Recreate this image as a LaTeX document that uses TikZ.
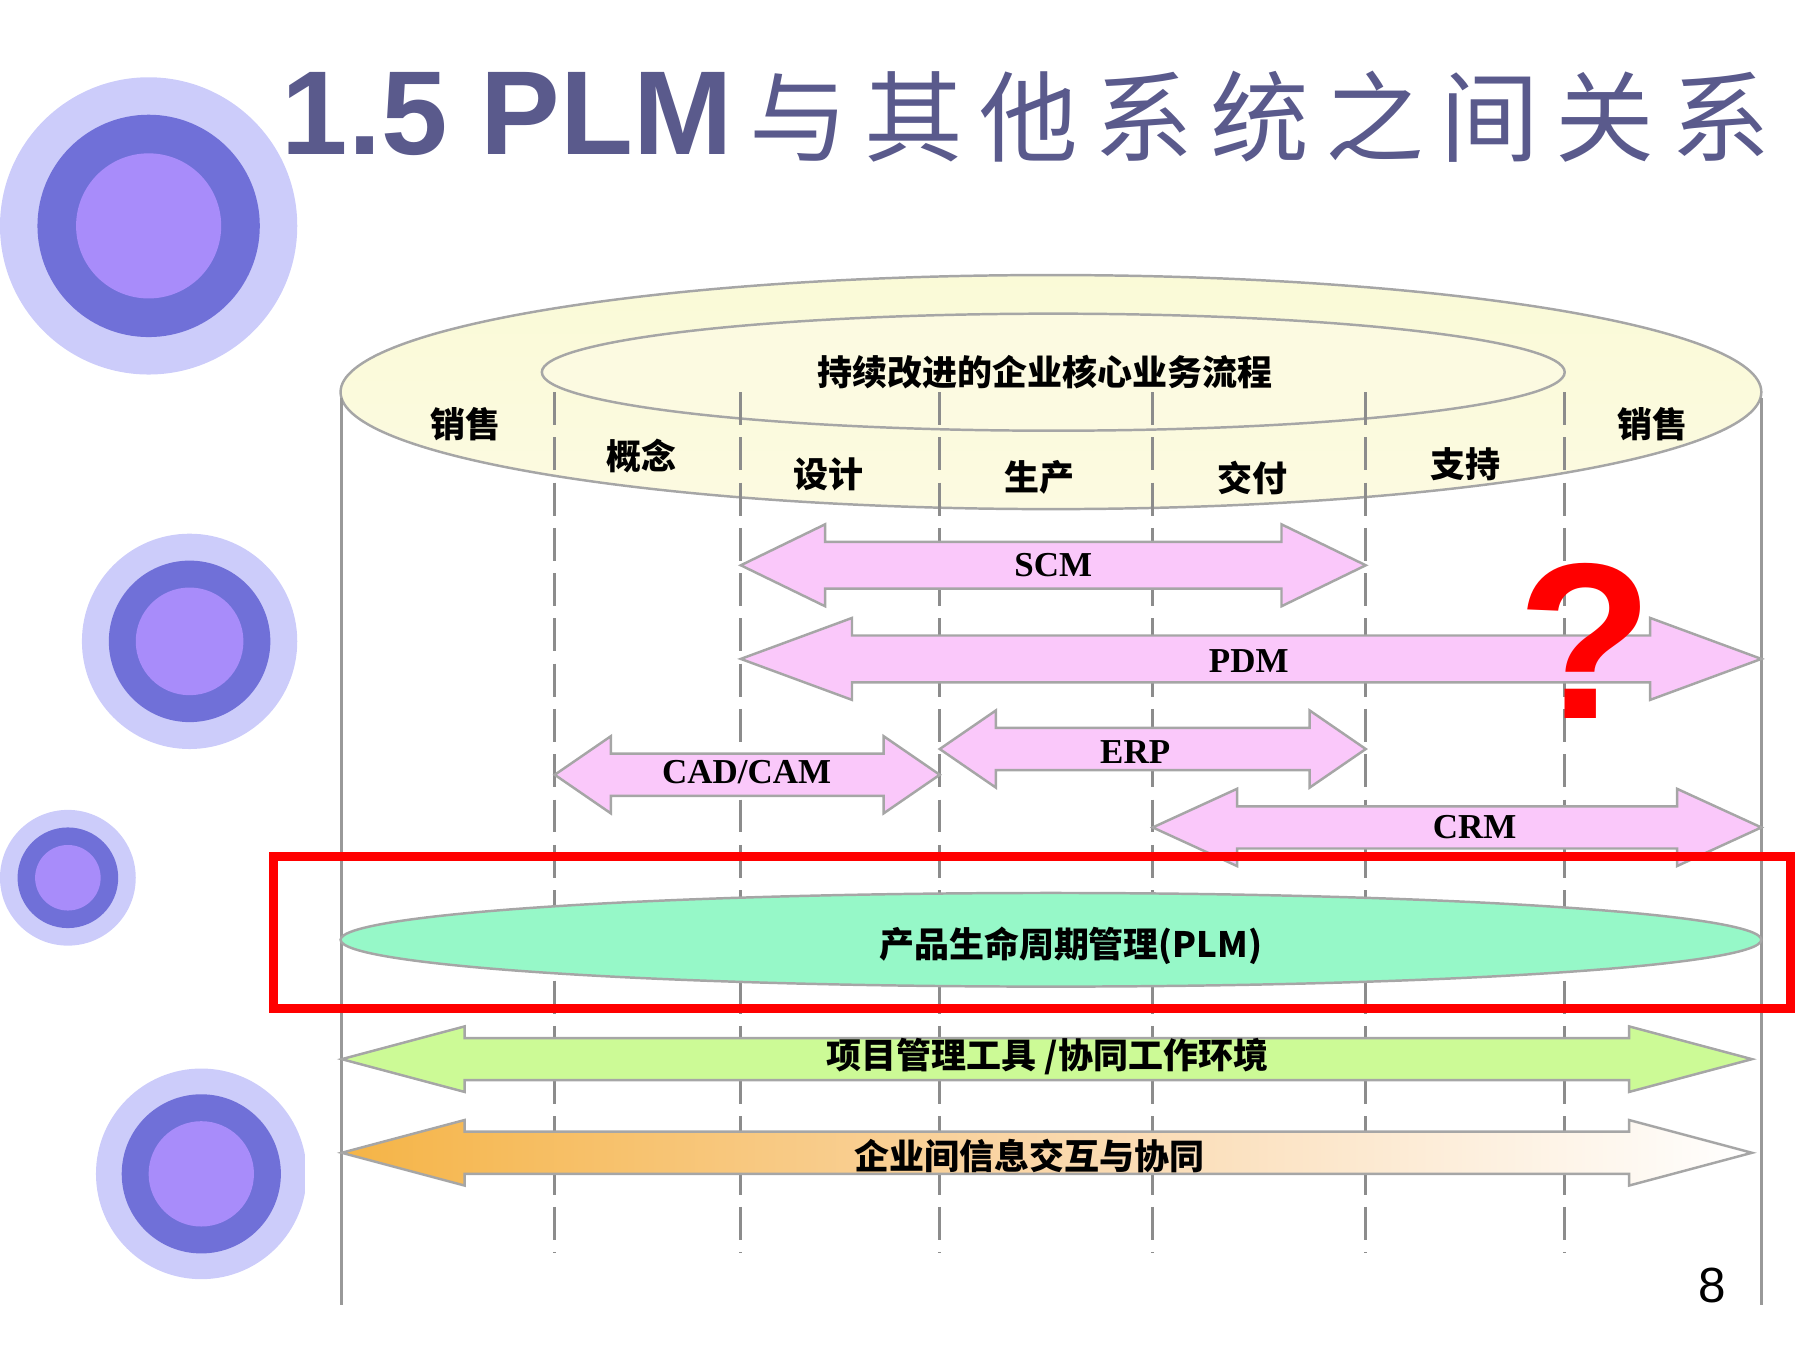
\documentclass[tikz,border=0pt]{standalone}
\usepackage{fontspec}
\setmainfont{Liberation Serif}
\newfontfamily\cjk{Noto Sans CJK SC}
\newfontfamily\hei{Liberation Sans}
\begin{document}
\begin{tikzpicture}[x=0.01cm,y=-0.01cm,
  lbl/.style={font=\cjk\bfseries\fontsize{8.5}{10}\selectfont},
  latin/.style={font=\bfseries\fontsize{8.5}{10}\selectfont},
  arr/.style={draw=gray!70, line width=0.6pt}]
\useasboundingbox (0,0) rectangle (1550,1162);
\newcommand{\dblarrow}[7]{% x1 x2 y shaft head hl style
  \path[#7] (#1,#3) -- (#1+#6,#3-#5) -- (#1+#6,#3-#4) -- (#2-#6,#3-#4) -- (#2-#6,#3-#5) -- (#2,#3) -- (#2-#6,#3+#5) -- (#2-#6,#3+#4) -- (#1+#6,#3+#4) -- (#1+#6,#3+#5) -- cycle;}
% circles
\foreach \cx/\cy/\a/\b/\c in {127/193/127/95/62, 162/548/92/69/46, 58/750/58/43/28, 172/1003/90/68/45}{
  \fill[fill={rgb,255:red,204;green,204;blue,250}] (\cx,\cy) circle (\a);
  \fill[fill={rgb,255:red,112;green,112;blue,216}] (\cx,\cy) circle (\b);
  \fill[fill={rgb,255:red,168;green,140;blue,250}] (\cx,\cy) circle (\c);}
\fill[white] (261,900) rectangle (290,1110);
% title
\node[anchor=west, text={rgb,255:red,90;green,90;blue,140}, inner sep=0] (title) at (240,100)
  {\hei\bfseries\fontsize{29}{32}\selectfont 1.5 PLM\cjk\mdseries\fontsize{24}{28}\selectfont
   \,与\,其\,他\,系\,统\,之\,间\,关\,系};
% outer cylinder top
\path[draw=gray!70, line width=0.6pt, top color={rgb,255:red,250;green,250;blue,215}, bottom color={rgb,255:red,252;green,250;blue,225}] (898,335) ellipse (607 and 100);
\path[draw=gray!70, line width=0.6pt, fill={rgb,255:red,252;green,250;blue,225}] (900,318) ellipse (437 and 50);
\node[lbl] (top) at (893,318) {持续改进的企业核心业务流程};
% vertical lines
\draw[gray!80, line width=0.8pt] (292,340) -- (292,1115);
\draw[gray!80, line width=0.8pt] (1505,340) -- (1505,1115);
\foreach \x in {474,633,803,985,1167,1337}
  \draw[gray!90, line width=0.8pt, dashed, dash pattern=on 8pt off 3pt] (\x,335) -- (\x,1070);
% stage labels
\node[lbl] (s1) at (398,362) {销售};
\node[lbl] (s2) at (548,390) {概念};
\node[lbl] (s3) at (708,405) {设计};
\node[lbl] (s4) at (888,408) {生产};
\node[lbl] (s5) at (1070,408) {交付};
\node[lbl] (s6) at (1252,397) {支持};
\node[lbl] (s7) at (1412,362) {销售};
% system arrows
\dblarrow{633}{1167}{483}{20}{35}{72}{arr, fill={rgb,255:red,250;green,200;blue,250}}
\node[latin] (scm) at (900,483) {SCM};
\dblarrow{633}{1505}{563}{20}{35}{95}{arr, fill={rgb,255:red,250;green,200;blue,250}}
\node[latin] (pdm) at (1067,565) {PDM};
\dblarrow{474}{803}{662}{18}{33}{48}{arr, fill={rgb,255:red,250;green,200;blue,250}}
\node[latin] (cad) at (638,660) {CAD/CAM};
\dblarrow{803}{1167}{640}{18}{33}{48}{arr, fill={rgb,255:red,250;green,200;blue,250}}
\node[latin] (erp) at (970,643) {ERP};
\dblarrow{985}{1505}{707}{18}{33}{72}{arr, fill={rgb,255:red,250;green,200;blue,250}}
\node[latin] (crm) at (1260,707) {CRM};
% PLM
\path[draw=gray!70, line width=0.6pt, fill={rgb,255:red,150;green,248;blue,200}] (898,803) ellipse (607 and 40);
\node[lbl] (plm) at (915,808) {产品生命周期管理(PLM)};
\draw[red, line width=2.2pt] (234,732) rectangle (1530,862);
% bottom arrows
\dblarrow{292}{1497}{905}{18}{28}{105}{arr, fill={rgb,255:red,204;green,250;blue,150}}
\node[lbl] (pm) at (895,903) {项目管理工具 /协同工作环境};
\dblarrow{292}{1497}{985}{18}{28}{105}{arr, left color={rgb,255:red,245;green,180;blue,70}, right color=white, middle color={rgb,255:red,250;green,215;blue,170}}
\node[lbl] (ie) at (880,988) {企业间信息交互与协同};
% question mark
\node[text=red, font=\hei\bfseries\fontsize{54}{60}\selectfont] (q) at (1355,548) {?};
\node[font=\hei\fontsize{12}{14}\selectfont] (pg) at (1463,1098) {8};
\end{tikzpicture}
\end{document}
